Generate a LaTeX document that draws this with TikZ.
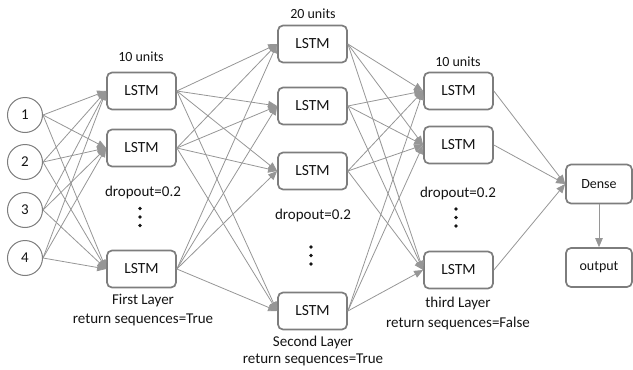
\documentclass[tikz,border=0pt]{standalone}
\usepackage{fontspec}
\setmainfont{Carlito}
\usetikzlibrary{arrows.meta}
\definecolor{boxgray}{RGB}{125,125,125}
\definecolor{linegray}{RGB}{150,150,150}
\definecolor{txt}{RGB}{20,20,20}
\tikzset{
  lstm/.style={draw=boxgray, line width=1.7pt, rounded corners=5pt, minimum width=69pt, minimum height=37pt, inner sep=0pt, font=\fontsize{15.5}{17}\selectfont, text=txt},
  small/.style={draw=boxgray, line width=1.7pt, rounded corners=5pt, minimum width=66pt, minimum height=39pt, inner sep=0pt, font=\fontsize{14}{16}\selectfont, text=txt},
  inp/.style={draw=boxgray, line width=1pt, circle, minimum size=35pt, inner sep=0pt, font=\fontsize{15}{17}\selectfont, text=txt},
  lbl/.style={font=\fontsize{15}{17}\selectfont, text=txt, inner sep=0pt},
  ulbl/.style={font=\fontsize{14}{16}\selectfont, text=txt, inner sep=0pt},
  conn/.style={draw=linegray, line width=0.8pt, -{Triangle[length=9pt,width=7.5pt]}},
  vdot/.style={fill=txt, circle, minimum size=3.8pt, inner sep=0pt}
}
\begin{document}
\begin{tikzpicture}[x=1pt,y=-1pt]
\useasboundingbox (0,0) rectangle (633,370);
% inputs
\node[inp] (c1) at (25,115) {1};
\node[inp] (c2) at (25,162) {2};
\node[inp] (c3) at (25,210) {3};
\node[inp] (c4) at (25,258) {4};
% layer 1
\node[lstm] (a1) at (141.5,91) {LSTM};
\node[lstm] (a2) at (141.5,148) {LSTM};
\node[lstm] (a3) at (141.5,269) {LSTM};
% layer 2
\node[lstm] (b1) at (312.5,44) {LSTM};
\node[lstm] (b2) at (312.5,106) {LSTM};
\node[lstm] (b3) at (312.5,171) {LSTM};
\node[lstm] (b4) at (312.5,311) {LSTM};
% layer 3
\node[lstm] (d1) at (458.5,91) {LSTM};
\node[lstm] (d2) at (458.5,145) {LSTM};
\node[lstm] (d3) at (458.5,270) {LSTM};
% dense / output
\node[small] (dense) at (599,184) {Dense};
\node[small] (out) at (599,267.5) {output};
% labels
\node[ulbl] (u1) at (141,57) {10 units};
\node[ulbl] (u2) at (313,14) {20 units};
\node[ulbl] (u3) at (458,62) {10 units};
\node[lbl] (p1) at (143,192) {dropout=0.2};
\node[lbl] (p2) at (313,215) {dropout=0.2};
\node[lbl] (p3) at (458,193) {dropout=0.2};
\node[lbl] (f1) at (143,301) {First Layer};
\node[lbl] (r1) at (143,320) {return sequences=True};
\node[lbl] (f2) at (313,342) {Second Layer};
\node[lbl] (r2) at (313,360) {return sequences=True};
\node[lbl] (f3) at (458,303) {third Layer};
\node[lbl] (r3) at (458,323) {return sequences=False};
% vertical dots
\foreach \y [count=\i] in {208.5,217,225.5} \node[vdot] (e1\i) at (140,\y) {};
\foreach \y [count=\i] in {247,255.5,264} \node[vdot] (e2\i) at (311,\y) {};
\foreach \y [count=\i] in {209,217.5,226} \node[vdot] (e3\i) at (456,\y) {};
% connections
\foreach \s in {c1,c2,c3,c4}
  \foreach \t in {a1,a2,a3}
    \draw[conn] (\s.east) -- (\t.west);
\foreach \s in {a1,a2,a3}
  \foreach \t in {b1,b2,b3,b4}
    \draw[conn] (\s.east) -- (\t.west);
\foreach \s in {b1,b2,b3,b4}
  \foreach \t in {d1,d2,d3}
    \draw[conn] (\s.east) -- (\t.west);
\foreach \s in {d1,d2,d3}
  \draw[conn] (\s.east) -- (dense.west);
\draw[conn] (dense.south) -- (out.north);
\end{tikzpicture}
\end{document}
